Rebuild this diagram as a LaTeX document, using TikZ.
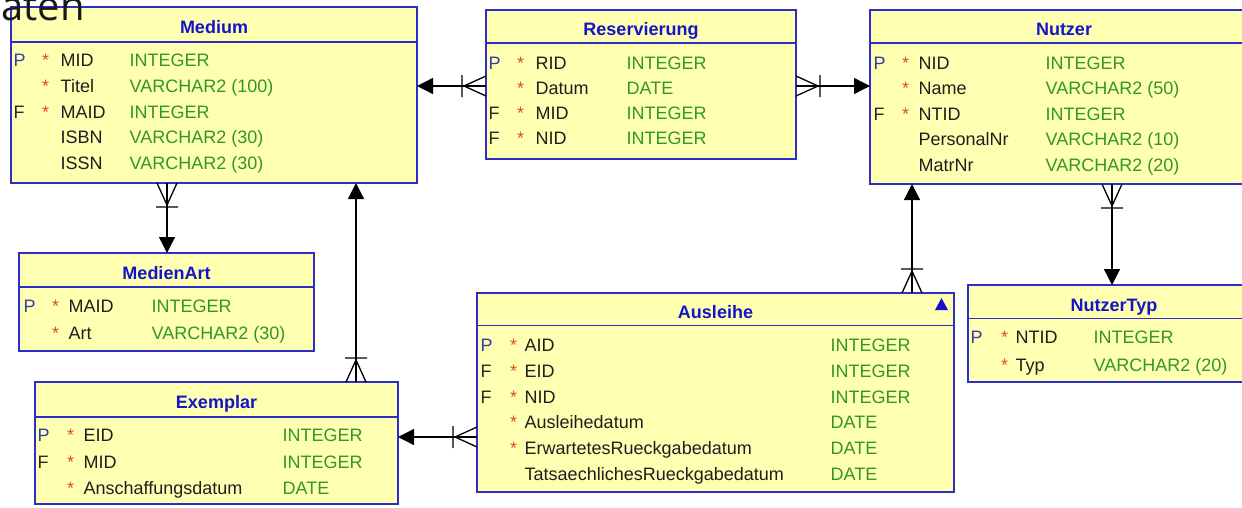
\documentclass[tikz,border=0pt]{standalone}
\usepackage{fontspec}
\setmainfont{Liberation Sans}
\newfontfamily\bigtitlefont{Open Sans}
\usetikzlibrary{arrows.meta}
\definecolor{tblfill}{RGB}{255,255,178}
\definecolor{tblblue}{RGB}{45,45,200}
\definecolor{hdrblue}{RGB}{20,20,200}
\definecolor{keyP}{RGB}{50,60,170}
\definecolor{keyF}{RGB}{40,40,40}
\definecolor{starred}{RGB}{220,80,30}
\definecolor{namecol}{RGB}{30,30,30}
\definecolor{typegreen}{RGB}{50,150,40}

\tikzset{
  tbl/.style={draw=tblblue, fill=tblfill, line width=1.3pt, inner sep=0pt, outer sep=0pt, anchor=north west},
  tblline/.style={draw=tblblue, line width=1.3pt},
  hdr/.style={font=\fontsize{18}{20}\selectfont\bfseries, text=hdrblue, inner sep=0pt, anchor=base},
  cell/.style={font=\fontsize{18}{20}\selectfont, inner sep=0pt, anchor=base west},
  conn/.style={draw=black, line width=1.4pt, -{Triangle[length=16pt,width=16pt]}},
  crowline/.style={draw=black, line width=1.3pt},
  crowfoot/.pic={
    \draw[crowline] (22,0) -- (0,10) (22,0) -- (0,-10) (24,-11) -- (24,11);
  }
}

\newcommand{\ertab}[8]{%
  \node[tbl, minimum width={(#4-#2)*1pt}, minimum height={(#5-#3)*1pt}] (#1) at (#2,#3) {};
  \draw[tblline] (#2,#6) -- (#4,#6);
  \node[hdr] (#1-title) at ({(#2+#4)/2},#7) {#8};
}
\newcommand{\errow}[6]{%
  \if\relax\detokenize{#3}\relax\else\node[cell,text=key#3] (#1-k) at (\xk,#2) {#3};\fi
  \if\relax\detokenize{#4}\relax\else\node[cell,text=starred] (#1-s) at (\xs,#2) {*};\fi
  \node[cell,text=namecol] (#1-n) at (\xn,#2) {#5};
  \node[cell,text=typegreen] (#1-t) at (\xt,#2) {#6};
}

\begin{document}
\begin{tikzpicture}[x=1pt,y=-1pt]
\path[use as bounding box, fill=white] (0,0) rectangle (1242,507);

% Medium
\ertab{medium}{11}{7}{417}{183}{42}{33.5}{Medium}
\def\xk{13.5}\def\xs{42}\def\xn{60.5}\def\xt{129.5}
\errow{med1}{66.5}{P}{*}{MID}{INTEGER}
\errow{med2}{92.3}{}{*}{Titel}{VARCHAR2 (100)}
\errow{med3}{118.1}{F}{*}{MAID}{INTEGER}
\errow{med4}{143.9}{}{}{ISBN}{VARCHAR2 (30)}
\errow{med5}{169.7}{}{}{ISSN}{VARCHAR2 (30)}

% Reservierung
\ertab{res}{486}{10}{796}{159}{43}{35.5}{Reservierung}
\def\xk{488.5}\def\xs{517}\def\xn{535.5}\def\xt{626.5}
\errow{res1}{69.2}{P}{*}{RID}{INTEGER}
\errow{res2}{94.6}{}{*}{Datum}{DATE}
\errow{res3}{119.8}{F}{*}{MID}{INTEGER}
\errow{res4}{144.9}{F}{*}{NID}{INTEGER}

% Nutzer
\ertab{nutzer}{870}{10}{1258}{184}{43}{35.5}{Nutzer}
\def\xk{873.5}\def\xs{902}\def\xn{918.5}\def\xt{1045.5}
\errow{nu1}{69.2}{P}{*}{NID}{INTEGER}
\errow{nu2}{94.7}{}{*}{Name}{VARCHAR2 (50)}
\errow{nu3}{120.2}{F}{*}{NTID}{INTEGER}
\errow{nu4}{145.7}{}{}{PersonalNr}{VARCHAR2 (10)}
\errow{nu5}{171.2}{}{}{MatrNr}{VARCHAR2 (20)}

% MedienArt
\ertab{medart}{19}{253}{314}{351}{287}{279.5}{MedienArt}
\def\xk{23.5}\def\xs{52}\def\xn{68.5}\def\xt{151.5}
\errow{ma1}{312.5}{P}{*}{MAID}{INTEGER}
\errow{ma2}{339.5}{}{*}{Art}{VARCHAR2 (30)}

% Exemplar
\ertab{exemplar}{35}{382}{398}{504}{417}{408.5}{Exemplar}
\def\xk{37.5}\def\xs{67}\def\xn{83.5}\def\xt{282.5}
\errow{ex1}{441.5}{P}{*}{EID}{INTEGER}
\errow{ex2}{468}{F}{*}{MID}{INTEGER}
\errow{ex3}{494}{}{*}{Anschaffungsdatum}{DATE}

% Ausleihe
\ertab{ausleihe}{477}{293}{954}{492}{325.5}{318.5}{Ausleihe}
\def\xk{480.5}\def\xs{510}\def\xn{524.5}\def\xt{830.5}
\errow{au1}{351.5}{P}{*}{AID}{INTEGER}
\errow{au2}{377.3}{F}{*}{EID}{INTEGER}
\errow{au3}{403.1}{F}{*}{NID}{INTEGER}
\errow{au4}{428.9}{}{*}{Ausleihedatum}{DATE}
\errow{au5}{454.7}{}{*}{ErwartetesRueckgabedatum}{DATE}
\errow{au6}{480.5}{}{}{TatsaechlichesRueckgabedatum}{DATE}
\fill[hdrblue] (935,310) -- (948,310) -- (941.5,298) -- cycle;

% NutzerTyp
\ertab{ntyp}{968}{285}{1260}{382}{318.5}{311.5}{NutzerTyp}
\def\xk{970.5}\def\xs{1001}\def\xn{1015.5}\def\xt{1093.5}
\errow{nt1}{343.5}{P}{*}{NTID}{INTEGER}
\errow{nt2}{371}{}{*}{Typ}{VARCHAR2 (20)}

% connector lanes
\coordinate (ly86) at (0,86);
\coordinate (ly437) at (0,437);
\coordinate (lx167) at (167,0);
\coordinate (lx356) at (356,0);
\coordinate (lx912) at (912,0);
\coordinate (lx1112) at (1112,0);

\draw[conn] (res.west |- ly86) -- (medium.east |- ly86);
\pic[rotate=180] at (res.west |- ly86) {crowfoot};

\draw[conn] (res.east |- ly86) -- (nutzer.west |- ly86);
\pic[rotate=0] at (res.east |- ly86) {crowfoot};

\draw[conn] (medium.south -| lx167) -- (medart.north -| lx167);
\pic[rotate=-90] at (medium.south -| lx167) {crowfoot};

\draw[conn] (exemplar.north -| lx356) -- (medium.south -| lx356);
\pic[rotate=90] at (exemplar.north -| lx356) {crowfoot};

\draw[conn] (ausleihe.west |- ly437) -- (exemplar.east |- ly437);
\pic[rotate=180] at (ausleihe.west |- ly437) {crowfoot};

\draw[conn] (ausleihe.north -| lx912) -- (nutzer.south -| lx912);
\pic[rotate=90] at (ausleihe.north -| lx912) {crowfoot};

\draw[conn] (nutzer.south -| lx1112) -- (ntyp.north -| lx1112);
\pic[rotate=-90] at (nutzer.south -| lx1112) {crowfoot};

% cropped page title
\node[font=\bigtitlefont\fontsize{40}{44}\selectfont, text=black!90, inner sep=0pt, anchor=base east] (pagetitle) at (85,20) {aten};
\end{tikzpicture}
\end{document}
